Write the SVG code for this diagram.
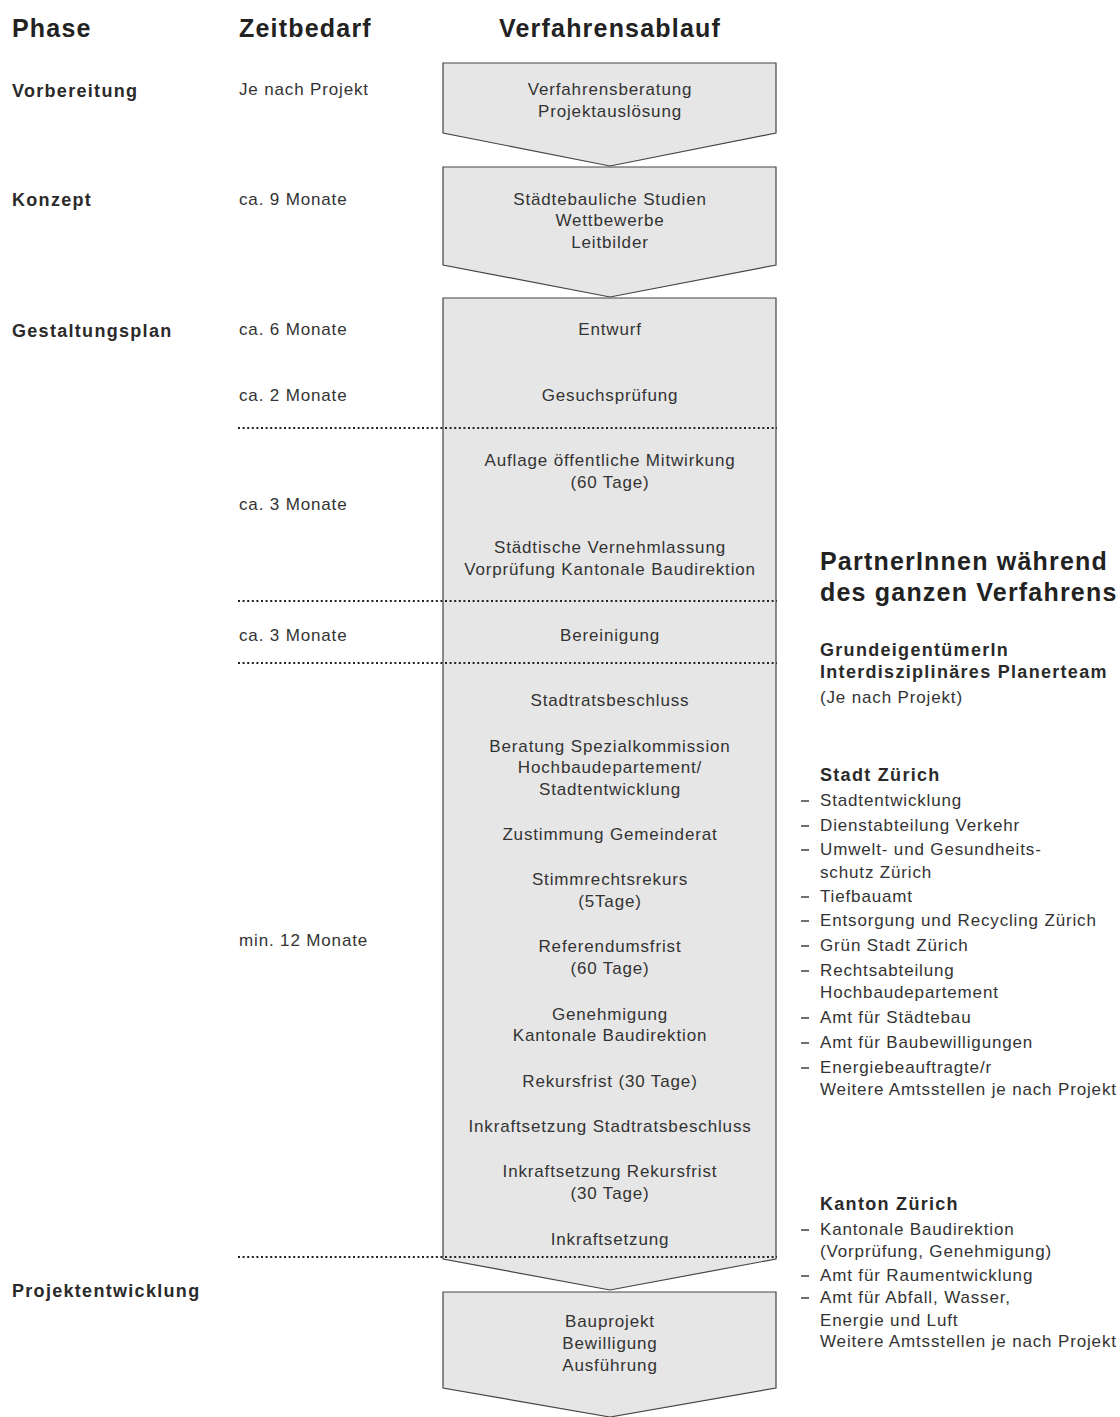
<svg xmlns="http://www.w3.org/2000/svg" width="1120" height="1417" viewBox="0 0 1120 1417">
<style>
text{font-family:"Liberation Sans",Arial,sans-serif;fill:#333}
.h{font-size:25px;font-weight:bold;fill:#222;letter-spacing:1.2px}
.p{font-size:18px;font-weight:bold;fill:#2a2a2a;letter-spacing:1.3px}
.t{font-size:17px;letter-spacing:0.85px}
.c{font-size:17px;text-anchor:middle;letter-spacing:0.85px}
.box{fill:#e6e6e6;stroke:#444;stroke-width:1.2}
.dot{stroke:#222;stroke-width:2.2;stroke-dasharray:2 2.6;fill:none}
.dash{stroke:#333;stroke-width:1.4}
</style>
<rect width="1120" height="1417" fill="#fff"/>
<g id="headers">
<text class="h" x="12" y="37">Phase</text>
<text class="h" x="239" y="37">Zeitbedarf</text>
<text class="h" x="610" y="37" text-anchor="middle">Verfahrensablauf</text>
</g>
<g id="phases">
<text class="p" x="12" y="97">Vorbereitung</text>
<text class="p" x="12" y="206">Konzept</text>
<text class="p" x="12" y="337">Gestaltungsplan</text>
<text class="p" x="12" y="1297">Projektentwicklung</text>
</g>
<g id="zeit">
<text class="t" x="239" y="95">Je nach Projekt</text>
<text class="t" x="239" y="205">ca. 9 Monate</text>
<text class="t" x="239" y="335">ca. 6 Monate</text>
<text class="t" x="239" y="401">ca. 2 Monate</text>
<text class="t" x="239" y="510">ca. 3 Monate</text>
<text class="t" x="239" y="641">ca. 3 Monate</text>
<text class="t" x="239" y="946">min. 12 Monate</text>
</g>
<g id="node-vorbereitung">
<polygon class="box" points="443,63 776,63 776,133 610,166 443,133"/>
<text class="c" x="610" y="95">Verfahrensberatung</text>
<text class="c" x="610" y="117">Projektauslösung</text>
</g>
<g id="node-konzept">
<polygon class="box" points="443,167 776,167 776,265 610,297 443,265"/>
<text class="c" x="610" y="205">Städtebauliche Studien</text>
<text class="c" x="610" y="226">Wettbewerbe</text>
<text class="c" x="610" y="248">Leitbilder</text>
</g>
<g id="node-gestaltungsplan">
<polygon class="box" points="443,298 776,298 776,1259 610,1290 443,1259"/>
<text class="c" x="610" y="335">Entwurf</text>
<text class="c" x="610" y="401">Gesuchsprüfung</text>
<text class="c" x="610" y="466">Auflage öffentliche Mitwirkung</text>
<text class="c" x="610" y="488">(60 Tage)</text>
<text class="c" x="610" y="553">Städtische Vernehmlassung</text>
<text class="c" x="610" y="575">Vorprüfung Kantonale Baudirektion</text>
<text class="c" x="610" y="641">Bereinigung</text>
<text class="c" x="610" y="706">Stadtratsbeschluss</text>
<text class="c" x="610" y="752">Beratung Spezialkommission</text>
<text class="c" x="610" y="773">Hochbaudepartement/</text>
<text class="c" x="610" y="795">Stadtentwicklung</text>
<text class="c" x="610" y="840">Zustimmung Gemeinderat</text>
<text class="c" x="610" y="885">Stimmrechtsrekurs</text>
<text class="c" x="610" y="907">(5Tage)</text>
<text class="c" x="610" y="952">Referendumsfrist</text>
<text class="c" x="610" y="974">(60 Tage)</text>
<text class="c" x="610" y="1020">Genehmigung</text>
<text class="c" x="610" y="1041">Kantonale Baudirektion</text>
<text class="c" x="610" y="1087">Rekursfrist (30 Tage)</text>
<text class="c" x="610" y="1132">Inkraftsetzung Stadtratsbeschluss</text>
<text class="c" x="610" y="1177">Inkraftsetzung Rekursfrist</text>
<text class="c" x="610" y="1199">(30 Tage)</text>
<text class="c" x="610" y="1245">Inkraftsetzung</text>
</g>
<g id="node-projektentwicklung">
<polygon class="box" points="443,1292 776,1292 776,1388 610,1417 443,1388"/>
<text class="c" x="610" y="1327">Bauprojekt</text>
<text class="c" x="610" y="1349">Bewilligung</text>
<text class="c" x="610" y="1371">Ausführung</text>
</g>
<g id="connectors">
<line class="dot" x1="238" y1="428" x2="777" y2="428"/>
<line class="dot" x1="238" y1="601" x2="777" y2="601"/>
<line class="dot" x1="238" y1="663" x2="777" y2="663"/>
<line class="dot" x1="238" y1="1257" x2="777" y2="1257"/>
</g>
<g id="partner">
<text class="h" x="820" y="570">PartnerInnen während</text>
<text class="h" x="820" y="601">des ganzen Verfahrens</text>
<text class="p" x="820" y="656">GrundeigentümerIn</text>
<text class="p" x="820" y="678">Interdisziplinäres Planerteam</text>
<text class="t" x="820" y="703">(Je nach Projekt)</text>
</g>
<g id="stadt">
<text class="p" x="820" y="781">Stadt Zürich</text>
<line class="dash" x1="801" y1="801" x2="809" y2="801"/>
<text class="t" x="820" y="806">Stadtentwicklung</text>
<line class="dash" x1="801" y1="826" x2="809" y2="826"/>
<text class="t" x="820" y="831">Dienstabteilung Verkehr</text>
<line class="dash" x1="801" y1="850" x2="809" y2="850"/>
<text class="t" x="820" y="855">Umwelt- und Gesundheits-</text>
<text class="t" x="820" y="878">schutz Zürich</text>
<line class="dash" x1="801" y1="897" x2="809" y2="897"/>
<text class="t" x="820" y="902">Tiefbauamt</text>
<line class="dash" x1="801" y1="921" x2="809" y2="921"/>
<text class="t" x="820" y="926">Entsorgung und Recycling Zürich</text>
<line class="dash" x1="801" y1="946" x2="809" y2="946"/>
<text class="t" x="820" y="951">Grün Stadt Zürich</text>
<line class="dash" x1="801" y1="971" x2="809" y2="971"/>
<text class="t" x="820" y="976">Rechtsabteilung</text>
<text class="t" x="820" y="998">Hochbaudepartement</text>
<line class="dash" x1="801" y1="1018" x2="809" y2="1018"/>
<text class="t" x="820" y="1023">Amt für Städtebau</text>
<line class="dash" x1="801" y1="1043" x2="809" y2="1043"/>
<text class="t" x="820" y="1048">Amt für Baubewilligungen</text>
<line class="dash" x1="801" y1="1068" x2="809" y2="1068"/>
<text class="t" x="820" y="1073">Energiebeauftragte/r</text>
<text class="t" x="820" y="1095">Weitere Amtsstellen je nach Projekt</text>
</g>
<g id="kanton">
<text class="p" x="820" y="1210">Kanton Zürich</text>
<line class="dash" x1="801" y1="1230" x2="809" y2="1230"/>
<text class="t" x="820" y="1235">Kantonale Baudirektion</text>
<text class="t" x="820" y="1257">(Vorprüfung, Genehmigung)</text>
<line class="dash" x1="801" y1="1276" x2="809" y2="1276"/>
<text class="t" x="820" y="1281">Amt für Raumentwicklung</text>
<line class="dash" x1="801" y1="1298" x2="809" y2="1298"/>
<text class="t" x="820" y="1303">Amt für Abfall, Wasser,</text>
<text class="t" x="820" y="1326">Energie und Luft</text>
<text class="t" x="820" y="1347">Weitere Amtsstellen je nach Projekt</text>
</g>
</svg>
